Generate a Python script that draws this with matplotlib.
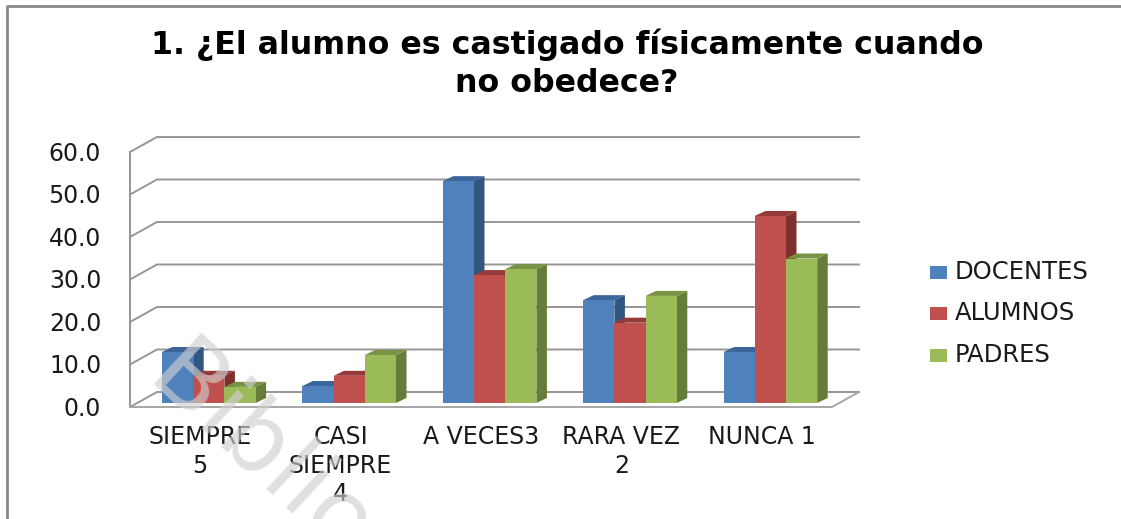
import matplotlib
matplotlib.use("Agg")
import matplotlib.pyplot as plt
from matplotlib.patches import Polygon

# --- data ---
categories = ["SIEMPRE\n5", "CASI\nSIEMPRE\n4", "A VECES3", "RARA VEZ\n2", "NUNCA 1"]
docentes = [12.0, 4.0, 52.2, 24.2, 12.0]
alumnos = [6.4, 6.4, 30.1, 18.9, 44.0]
padres = [3.8, 11.3, 31.5, 25.2, 34.0]
series_names = ["DOCENTES", "ALUMNOS", "PADRES"]
yticks = [0, 10, 20, 30, 40, 50, 60]

front = ["#4F81BD", "#C0504D", "#9BBB59"]
side = ["#31567F", "#7F2F2D", "#667C38"]
top = ["#3C659A", "#953A38", "#789344"]
grid_col = "#969696"

W, H = 1121, 519
fig = plt.figure(figsize=(W / 100, H / 100), dpi=100)
fig.patch.set_facecolor("white")

# front plane of the chart: x 130-832 px, y 407-152 px
ax = fig.add_axes([130 / W, 1 - 407 / H, 702 / W, 255 / H])
ax.set_xlim(0, 5)
ax.set_ylim(0, 60)
ax.axis("off")

# fake 3D depth, in data units
depth_x = 27 / 140.4
depth_y = 15 / 4.25
bar_dx = 10.5 / 140.4
bar_dy = 5 / 4.25
base_y = 4 / 4.25
bar_w = 31.2 / 140.4
first = 32 / 140.4

# back wall and side wall gridlines
for t in yticks:
    ax.plot([0, depth_x, 5 + depth_x], [t, t + depth_y, t + depth_y],
            color=grid_col, lw=1.4, clip_on=False, zorder=1)
ax.plot([0, 0], [0, 60], color=grid_col, lw=1.4, clip_on=False, zorder=1)
# floor
ax.plot([0, 5, 5 + depth_x], [0, 0, depth_y], color="#A6A6A6", lw=1.4, clip_on=False, zorder=1)

for i in range(5):
    vals = [docentes[i], alumnos[i], padres[i]]
    for j in range(3):
        x0 = i + first + j * bar_w
        x1 = x0 + bar_w
        v = vals[j] + base_y
        z = 3 + i + j * 0.1
        ax.add_patch(Polygon([(x1, base_y), (x1 + bar_dx, base_y + bar_dy), (x1 + bar_dx, v + bar_dy), (x1, v)],
                             closed=True, fc=side[j], ec="none", clip_on=False, zorder=z))
        ax.add_patch(Polygon([(x0, v), (x0 + bar_dx, v + bar_dy), (x1 + bar_dx, v + bar_dy), (x1, v)],
                             closed=True, fc=top[j], ec="none", clip_on=False, zorder=z))
        ax.bar(x0, vals[j], width=bar_w, bottom=base_y, align="edge", color=front[j],
               clip_on=False, zorder=z + 0.05)

for t in yticks:
    ax.text(-0.205, t - 0.4, "%.1f" % t, ha="right", va="center", fontsize=17, color="#1A1A1A", clip_on=False)

for i in range(5):
    ax.text(i + 0.5, -4.2, categories[i], ha="center", va="top", fontsize=17, color="#1A1A1A",
            linespacing=1.25, clip_on=False)

# legend
for j in range(3):
    y_px = 272 + j * 41.5
    fig.patches.append(plt.Rectangle((930 / W, 1 - (y_px + 6.5) / H), 17 / W, 13 / H,
                                     transform=fig.transFigure, fc=front[j], ec="none"))
    fig.text(955 / W, 1 - y_px / H, series_names[j], ha="left", va="center", fontsize=17.5, color="#1A1A1A")

fig.text(567 / W, 1 - 45 / H, "1. ¿El alumno es castigado físicamente cuando", ha="center", va="center",
         fontsize=22.8, fontweight="bold", color="black")
fig.text(567 / W, 1 - 83 / H, "no obedece?", ha="center", va="center",
         fontsize=22.8, fontweight="bold", color="black")

# page frame, only top and left are visible
fig.add_artist(plt.Line2D([7 / W, 7 / W, 1], [0, 1 - 6 / H, 1 - 6 / H], color="#8A8A8A", lw=2))

# watermark, cut by the bottom of the page
fig.text(143 / W, 1 - 383 / H, "Biblio", rotation=-43, rotation_mode="anchor", ha="left", va="baseline",
         fontsize=70, color="#CFCFCF", alpha=0.65, zorder=20)

fig.savefig("out.png", dpi=100)
